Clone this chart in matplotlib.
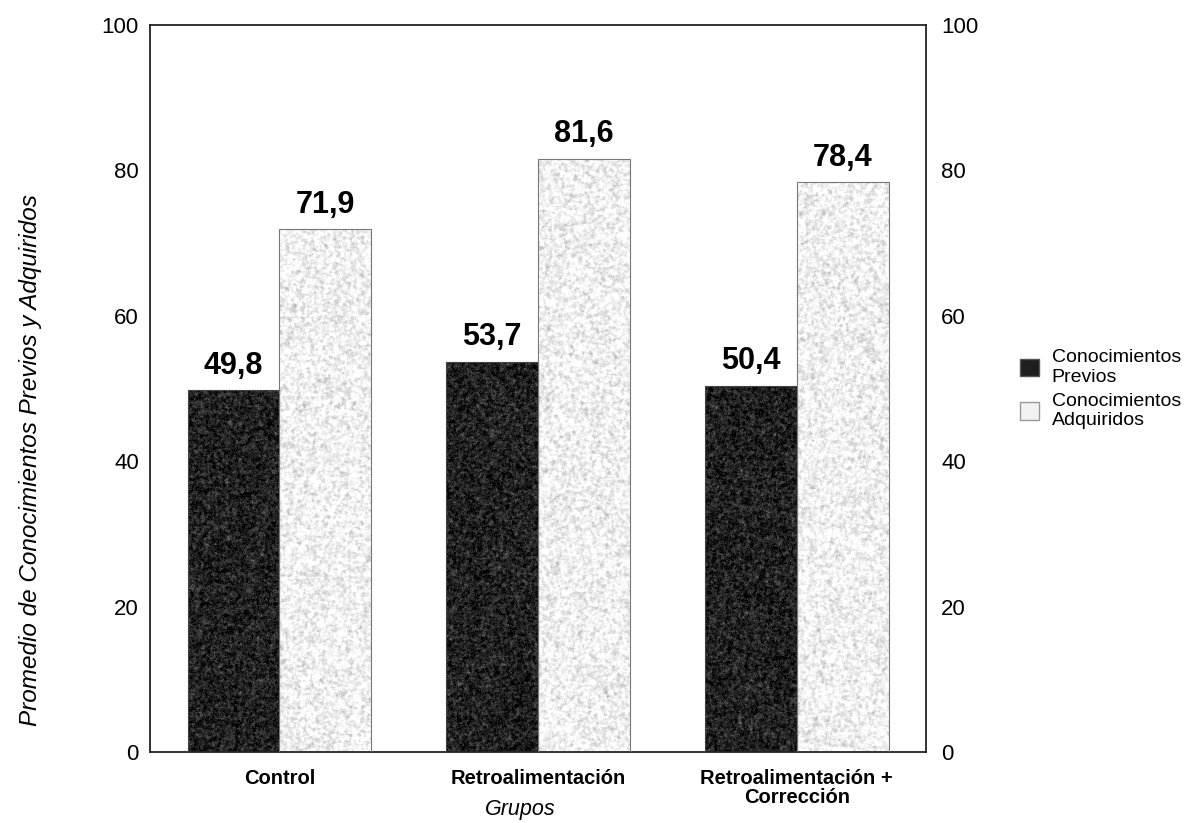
import numpy as np
import matplotlib.pyplot as plt
import matplotlib.transforms as mtransforms
from matplotlib.patches import Patch

plt.rcParams['font.family'] = ['Liberation Sans', 'DejaVu Sans']

grupos = ['Control', 'Retroalimentación', 'Retroalimentación +\nCorrección']
previos = [49.8, 53.7, 50.4]
adquiridos = [71.9, 81.6, 78.4]
etiquetas_previos = ['49,8', '53,7', '50,4']
etiquetas_adquiridos = ['71,9', '81,6', '78,4']

fig = plt.figure(figsize=(11.88, 8.23), dpi=100)
ax = fig.add_axes([0.1263, 0.0863, 0.6532, 0.8833])

x = np.arange(len(grupos))
w = 0.355
color_previos = '#1e1e1e'
color_adq = '#ececec'

b1 = ax.bar(x - w / 2, previos, w, color=color_previos, linewidth=0, zorder=1)
b2 = ax.bar(x + w / 2, adquiridos, w, color=color_adq, linewidth=0, zorder=1)

# grainy fill, like an old stats-package print
rng = np.random.default_rng(3)


def grano(shape, base, amp, blur):
    n = rng.normal(0, 1, shape)
    s = n.copy()
    for _ in range(blur):
        s = (s + np.roll(s, 1, 0) + np.roll(s, -1, 0) + np.roll(s, 1, 1) + np.roll(s, -1, 1)) / 5
    s = s / s.std()
    return np.clip(base + amp[0] * n + amp[1] * s, 0, 1)


for bars, base, amp in ((b1, 0.13, (0.05, 0.04)), (b2, 0.94, (0.025, 0.045))):
    for rect in bars:
        x0, h, bw = rect.get_x(), rect.get_height(), rect.get_width()
        img = grano((int(h * 7.3), 92), base, amp, 3)
        im = ax.imshow(img, extent=(x0, x0 + bw, 0, h), cmap='gray', vmin=0, vmax=1,
                       aspect='auto', interpolation='nearest', zorder=2)
        im.set_clip_path(rect)

ax.bar(x - w / 2, previos, w, fill=False, edgecolor='#444444', linewidth=0.8, zorder=3)
ax.bar(x + w / 2, adquiridos, w, fill=False, edgecolor='#777777', linewidth=0.8, zorder=3)

for rect, txt in zip(b1, etiquetas_previos):
    ax.text(rect.get_x() + rect.get_width() / 2, rect.get_height() + 1.3, txt,
            ha='center', va='bottom', fontsize=22, fontweight='bold')
for rect, txt in zip(b2, etiquetas_adquiridos):
    ax.text(rect.get_x() + rect.get_width() / 2, rect.get_height() + 1.3, txt,
            ha='center', va='bottom', fontsize=22, fontweight='bold')

ax.set_xlim(-0.5, 2.5)
ax.set_ylim(0, 100)
ax.set_yticks([0, 20, 40, 60, 80, 100])
ax.set_xticks(x)
ax.set_xticklabels(grupos, fontsize=14.5, fontweight='bold', linespacing=1.05)
ax.tick_params(axis='x', length=0, pad=12)
ax.tick_params(axis='y', length=0, labelsize=16, pad=8, right=True, labelright=True)

# right-hand labels sit a little further from the frame
shift = mtransforms.ScaledTranslation(4 / 100, 0, fig.dpi_scale_trans)
for t in ax.yaxis.get_major_ticks():
    t.label2.set_transform(t.label2.get_transform() + shift)

for s in ax.spines.values():
    s.set_linewidth(1.3)
    s.set_color('#222222')

fig.text(0.4377, 0.004, 'Grupos', ha='center', va='bottom', fontsize=15.5, fontstyle='italic')
fig.text(0.026, 0.441, 'Promedio de Conocimientos Previos y Adquiridos', rotation=90,
         ha='center', va='center', fontsize=17.5, fontstyle='italic')

handles = [Patch(facecolor=color_previos, edgecolor='#555555', label='Conocimientos\nPrevios'),
           Patch(facecolor='#f2f2f2', edgecolor='#999999', label='Conocimientos\nAdquiridos')]
fig.legend(handles=handles, loc='center left', bbox_to_anchor=(0.8500, 0.527), frameon=False,
           fontsize=14, handlelength=1.0, handleheight=1.0, handletextpad=0.65,
           labelspacing=0.35, borderpad=0)

fig.savefig('out.png', dpi=100)
